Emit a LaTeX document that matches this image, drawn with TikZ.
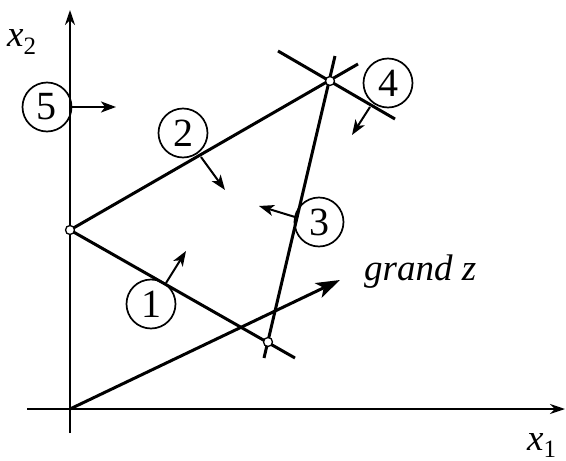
\documentclass[tikz,border=0pt]{standalone}
\usepackage{fontspec}
\setmainfont{Liberation Serif}
\usetikzlibrary{arrows.meta}
\tikzset{
  axisline/.style={line width=1.8pt,-{Stealth[length=15pt,width=10pt]}},
  mainline/.style={line width=3pt},
  lab/.style={circle,draw,line width=1.7pt,minimum size=49pt,inner sep=0pt,font=\fontsize{40}{44}\selectfont},
  dirarrow/.style={line width=2pt,-{Stealth[length=15pt,width=11pt,inset=4pt]}},
  pt/.style={circle,draw,fill=white,line width=1.3pt,minimum size=9pt,inner sep=0pt},
  txt/.style={font=\fontsize{37}{42}\selectfont\itshape,inner sep=0pt}
}
\begin{document}
\begin{tikzpicture}[x=1pt,y=-1pt]
\useasboundingbox (0,0) rectangle (566,461);
% axes
\coordinate (xs) at (27,409);
\coordinate (xe) at (565,409);
\coordinate (ys) at (70,433);
\coordinate (ye) at (70,10);
\draw[axisline] (xs) -- (xe);
\draw[axisline] (ys) -- (ye);
\node[txt,anchor=base west] (x1) at (527,450) {x\raisebox{-7pt}{\fontsize{25}{27}\selectfont\upshape 1}};
\node[txt,anchor=base west] (x2) at (7,46) {x\raisebox{-8pt}{\fontsize{25}{27}\selectfont\upshape 2}};
% points
\coordinate (O) at (70,409);
\coordinate (A) at (70,230);
\coordinate (B) at (330,81);
\coordinate (C) at (268,342);
\coordinate (e2) at (358,64);
\coordinate (e1) at (295,358);
\coordinate (s3) at (264,358);
\coordinate (e3) at (335,56);
\coordinate (s4) at (278,51);
\coordinate (e4) at (395,119);
\coordinate (z) at (340,280);
% constraint lines
\draw[mainline] (A) -- (e2);
\draw[mainline] (A) -- (e1);
\draw[mainline] (s3) -- (e3);
\draw[mainline] (s4) -- (e4);
\draw[mainline,-{Stealth[length=24pt,width=16pt,inset=6pt]}] (O) -- (z);
\node[txt,anchor=base west] (gz) at (364,280) {grand z};
% vertex markers
\node[pt] (pA) at (A) {};
\node[pt] (pB) at (B) {};
\node[pt] (pC) at (C) {};
% labels
\node[lab] (c1) at (151,304) {1};
\node[lab] (c2) at (183,133) {2};
\node[lab] (c3) at (319,222) {3};
\node[lab] (c4) at (388,83) {4};
\node[lab] (c5) at (47,107) {5};
% direction arrows
\coordinate (a1s) at (166,283); \coordinate (a1e) at (186,251);
\coordinate (a2s) at (201,157); \coordinate (a2e) at (225,190);
\coordinate (a3s) at (295,217); \coordinate (a3e) at (259,206);
\coordinate (a4s) at (370,107); \coordinate (a4e) at (352,135);
\coordinate (a5s) at (71,107);  \coordinate (a5e) at (116,107);
\draw[dirarrow] (a1s) -- (a1e);
\draw[dirarrow] (a2s) -- (a2e);
\draw[dirarrow] (a3s) -- (a3e);
\draw[dirarrow] (a4s) -- (a4e);
\draw[dirarrow] (a5s) -- (a5e);
\end{tikzpicture}
\end{document}
